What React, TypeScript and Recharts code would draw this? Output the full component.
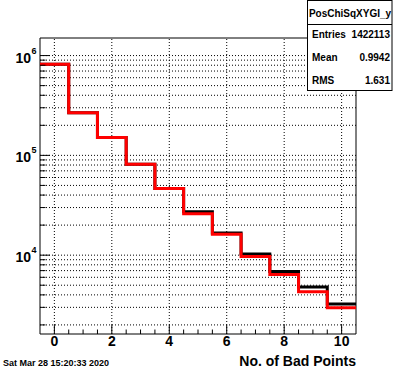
import React from 'react';
import { LineChart, Line, XAxis, YAxis, CartesianGrid, ReferenceArea, ReferenceLine } from 'recharts';

// ---- data ----
const binCenters = [0, 1, 2, 3, 4, 5, 6, 7, 8, 9, 10];
const allCounts = [818000, 267000, 151000, 81500, 46500, 27200, 16700, 10300, 6850, 4800, 3250];
const selCounts = [818000, 267000, 151000, 81500, 46500, 26000, 16200, 9700, 6400, 4300, 2970];
const xMajorTicks = [0, 2, 4, 6, 8, 10];
const xTicks = [0, 0.5, 1, 1.5, 2, 2.5, 3, 3.5, 4, 4.5, 5, 5.5, 6, 6.5, 7, 7.5, 8, 8.5, 9, 9.5, 10];
const yDecades = [10000, 100000, 1000000];
const yTicks = [
  2000, 3000, 4000, 5000, 6000, 7000, 8000, 9000,
  10000, 20000, 30000, 40000, 50000, 60000, 70000, 80000, 90000,
  100000, 200000, 300000, 400000, 500000, 600000, 700000, 800000, 900000,
  1000000,
];
const xDomain = [-0.5, 10.5];
const yDomain = [1622, 1500000];
const statsTitle = 'PosChiSqXYGI_y';
const statsLabels = ['Entries', 'Mean', 'RMS'];
const statsValues = ['1422113', '0.9942', '1.631'];
const dateText = 'Sat Mar 28 15:20:33 2020';
const xTitle = 'No. of Bad Points';

const FONT = '"Liberation Sans", Arial, Helvetica, sans-serif';

// histogram as step line through bin edges
const binWidth = 1;
const histData = binCenters.map((c, i) => ({ x: c - binWidth / 2, all: allCounts[i], sel: selCounts[i] }));
histData.push({
  x: binCenters[binCenters.length - 1] + binWidth / 2,
  all: allCounts[allCounts.length - 1],
  sel: selCounts[selCounts.length - 1],
});

const YTick = (props: any) => {
  const { x, y, payload } = props;
  const v = payload.value;
  const major = yDecades.includes(v);
  const exp = Math.round(Math.log10(v));
  return (
    <g>
      <line x1={x} x2={x + (major ? 10 : 5.5)} y1={y} y2={y} stroke="#000" strokeWidth={1} />
      {major && (
        <text fontFamily={FONT} fontWeight="bold" fill="#000">
          <tspan x={x - 9} y={y + 7} fontSize={14} textAnchor="end">10</tspan>
          <tspan x={x - 8.5} y={y - 2} fontSize={9} textAnchor="start">{String(exp)}</tspan>
        </text>
      )}
    </g>
  );
};

const XTick = (props: any) => {
  const { x, y, payload } = props;
  const v = payload.value;
  const major = xMajorTicks.includes(v);
  return (
    <g>
      <line x1={x} x2={x} y1={y} y2={y - (major ? 9 : 4.5)} stroke="#000" strokeWidth={1} />
      {major && (
        <text x={x} y={y + 12} textAnchor="middle" fontFamily={FONT} fontWeight="bold" fontSize={14} fill="#000">
          {String(v)}
        </text>
      )}
    </g>
  );
};

export default function App() {
  return (
    <div style={{ position: 'absolute', left: 0, top: 0, width: 396, height: 372, background: '#fff' }}>
      <LineChart
        width={396}
        height={372}
        data={histData}
        margin={{ top: 38, right: 40, bottom: 0, left: 0 }}
      >
        <CartesianGrid
          stroke="#000"
          strokeDasharray="1 2"
          vertical={false}
          horizontalValues={yTicks}
        />
        <XAxis
          dataKey="x"
          type="number"
          domain={xDomain}
          allowDataOverflow
          ticks={xTicks}
          interval={0}
          tickSize={0}
          tickMargin={0}
          axisLine={false}
          tickLine={false}
          height={38}
          tick={<XTick />}
        />
        <YAxis
          type="number"
          scale="log"
          domain={yDomain}
          allowDataOverflow
          ticks={yTicks}
          interval={0}
          tickSize={0}
          tickMargin={0}
          axisLine={false}
          tickLine={false}
          width={40}
          tick={<YTick />}
        />
        {xMajorTicks.map((t) => (
          <ReferenceLine key={t} x={t} stroke="#000" strokeWidth={1} strokeDasharray="1 2" />
        ))}
        <ReferenceArea
          x1={xDomain[0]}
          x2={xDomain[1]}
          y1={yDomain[0]}
          y2={yDomain[1]}
          fill="none"
          fillOpacity={0}
          stroke="#000"
          strokeWidth={1}
          ifOverflow="visible"
        />
        <Line
          dataKey="all"
          type="stepAfter"
          stroke="#000"
          strokeWidth={3}
          dot={false}
          activeDot={false}
          isAnimationActive={false}
        />
        <Line
          dataKey="sel"
          type="stepAfter"
          stroke="#ff0000"
          strokeWidth={3}
          dot={false}
          activeDot={false}
          isAnimationActive={false}
        />
      </LineChart>
      <svg
        width={396}
        height={372}
        style={{ position: 'absolute', left: 0, top: 0, pointerEvents: 'none' }}
      >
        <rect x={307.5} y={0.5} width={84.5} height={90} fill="#fff" stroke="#000" strokeWidth={1} />
        <line x1={307.5} x2={392} y1={24.5} y2={24.5} stroke="#000" strokeWidth={1} />
        <text x={350} y={17} textAnchor="middle" fontFamily={FONT} fontWeight="bold" fontSize={10} fill="#000">
          {statsTitle}
        </text>
        {statsLabels.map((lab, i) => (
          <g key={lab}>
            <text x={312} y={38 + i * 23} fontFamily={FONT} fontWeight="bold" fontSize={10} fill="#000">
              {lab}
            </text>
            <text x={390} y={38 + i * 23} textAnchor="end" fontFamily={FONT} fontWeight="bold" fontSize={10} fill="#000">
              {statsValues[i]}
            </text>
          </g>
        ))}
        <text x={356} y={366} textAnchor="end" fontFamily={FONT} fontWeight="bold" fontSize={14} fill="#000">
          {xTitle}
        </text>
        <text x={3} y={365.5} fontFamily={FONT} fontWeight="bold" fontSize={9} fill="#000">
          {dateText}
        </text>
      </svg>
    </div>
  );
}
